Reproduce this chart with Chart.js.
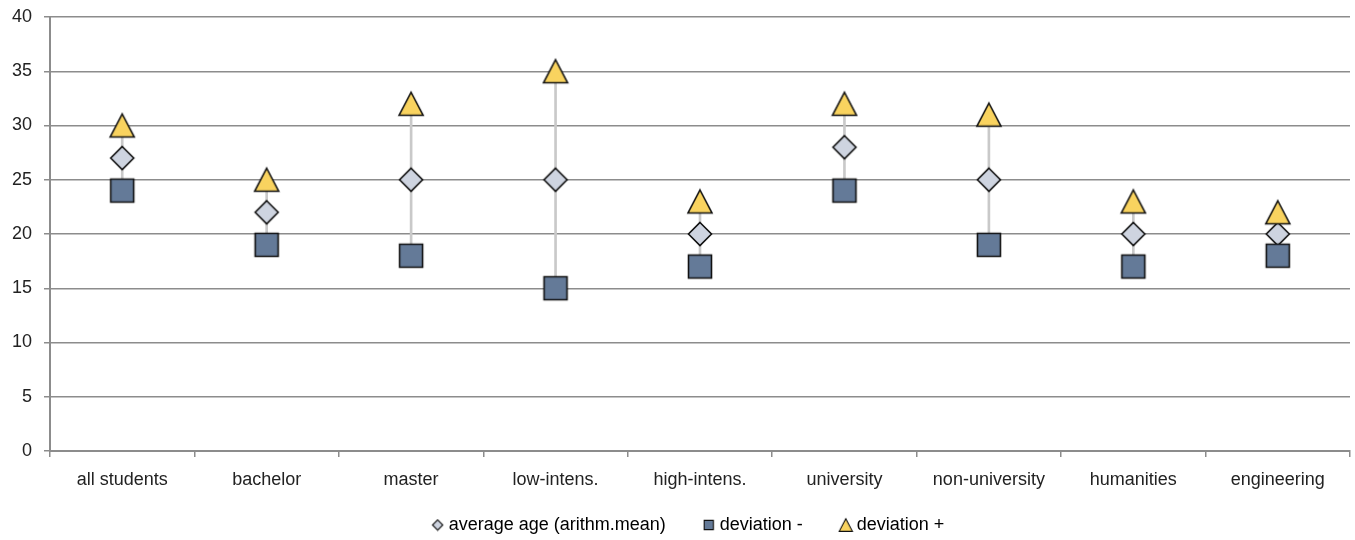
<!DOCTYPE html>
<html>
<head>
<meta charset="utf-8">
<script src="https://cdn.jsdelivr.net/npm/chart.js@4"></script>
<style>
  html, body { margin: 0; padding: 0; background: #fff; }
  #wrap { width: 1355px; height: 540px; position: relative; }
</style>
</head>
<body>
<div id="wrap"><canvas id="chart"></canvas></div>
<script>
// Student groups on the x axis
const categories = ['all students', 'bachelor', 'master', 'low-intens.', 'high-intens.',
  'university', 'non-university', 'humanities', 'engineering'];
// Mean age and the lower / upper deviation bounds per group
const averageAge = [27, 22, 25, 25, 20, 28, 25, 20, 20];
const deviationLow = [24, 19, 18, 15, 17, 24, 19, 17, 18];
const deviationHigh = [30, 25, 32, 35, 23, 32, 31, 23, 22];
const yTicks = [0, 5, 10, 15, 20, 25, 30, 35, 40];

const seriesNames = ['average age (arithm.mean)', 'deviation -', 'deviation +'];

// Marker glyphs drawn onto small canvases
function marker(kind, scale) {
  const s = Math.ceil(28 * scale);
  const c = document.createElement('canvas');
  c.width = s; c.height = s;
  const g = c.getContext('2d');
  const m = s / 2;
  g.lineWidth = 1.6 * Math.max(scale, 0.7);
  g.strokeStyle = '#111';
  g.lineJoin = 'miter';
  g.beginPath();
  if (kind === 'diamond') {
    const r = 11.5 * scale;
    g.moveTo(m, m - r); g.lineTo(m + r, m); g.lineTo(m, m + r); g.lineTo(m - r, m); g.closePath();
    g.fillStyle = '#CED4E0';
  } else if (kind === 'square') {
    const h = 11.5 * scale;
    g.rect(m - h, m - h, 2 * h, 2 * h);
    g.fillStyle = '#647A98';
  } else {
    const hw = 12 * scale, hh = 11.5 * scale;
    g.moveTo(m, m - hh); g.lineTo(m + hw, m + hh); g.lineTo(m - hw, m + hh); g.closePath();
    g.fillStyle = '#F9D35F';
  }
  g.fill();
  g.stroke();
  return c;
}

const bigMarks = [marker('diamond', 1), marker('square', 1), marker('triangle', 1)];
const smallMarks = [marker('diamond', 0.45), marker('square', 0.4), marker('triangle', 0.55)];

const gridColor = '#8c8c8c';
const font = { family: "'Liberation Sans', Arial, sans-serif", size: 18 };

// Puts the legend row just under the axis labels, slightly right of centre
const legendPlacement = {
  id: 'legendPlacement',
  afterLayout(chart) {
    const lg = chart.legend;
    if (!lg) return;
    lg.top = 475;
    lg.left += 28;
  }
};

const ctx = document.getElementById('chart');
new Chart(ctx, {
  data: {
    labels: categories,
    datasets: [
      {
        type: 'line', label: seriesNames[0], data: averageAge, showLine: false,
        pointStyle: bigMarks[0], order: 3
      },
      {
        type: 'line', label: seriesNames[1], data: deviationLow, showLine: false,
        pointStyle: bigMarks[1], order: 2
      },
      {
        type: 'line', label: seriesNames[2], data: deviationHigh, showLine: false,
        pointStyle: bigMarks[2], order: 1
      },
      {
        // high-low connector from the lower to the upper bound
        type: 'bar', label: 'range', data: deviationLow.map((v, i) => [v, deviationHigh[i]]),
        backgroundColor: '#c9c9c9', barThickness: 2, order: 10
      }
    ]
  },
  plugins: [legendPlacement],
  options: {
    responsive: true,
    maintainAspectRatio: false,
    animation: false,
    events: [],
    layout: { padding: { top: 17, right: 3, left: 0, bottom: 0 } },
    plugins: {
      tooltip: { enabled: false },
      legend: {
        position: 'bottom',
        maxHeight: 48,
        labels: {
          usePointStyle: true,
          boxWidth: 4,
          boxHeight: 4,
          padding: 41,
          color: '#222',
          font: font,
          generateLabels: () => seriesNames.map((name, i) => ({
            text: name,
            pointStyle: smallMarks[i],
            fillStyle: '#fff',
            strokeStyle: '#000',
            lineWidth: 0,
            hidden: false,
            datasetIndex: i
          }))
        }
      }
    },
    scales: {
      x: {
        type: 'category',
        offset: true,
        grid: {
          offset: true,
          drawOnChartArea: false,
          drawTicks: true,
          tickLength: 6,
          color: gridColor,
          lineWidth: 1.5
        },
        border: { display: true, color: gridColor, width: 2 },
        ticks: { color: '#222', font: font, padding: 12, maxRotation: 0, autoSkip: false },
        afterFit: (scale) => { scale.height = 41; }
      },
      y: {
        min: 0,
        max: 40,
        afterBuildTicks: (scale) => { scale.ticks = yTicks.map(v => ({ value: v })); },
        grid: { color: gridColor, lineWidth: 1.5, tickLength: 6, drawTicks: true },
        border: { display: true, color: gridColor, width: 2 },
        ticks: { color: '#222', font: font, padding: 12 },
        afterFit: (scale) => {
          scale.width = 50;
          scale.paddingTop = 0;
          scale.paddingBottom = 0;
        }
      }
    }
  }
});
</script>
</body>
</html>
